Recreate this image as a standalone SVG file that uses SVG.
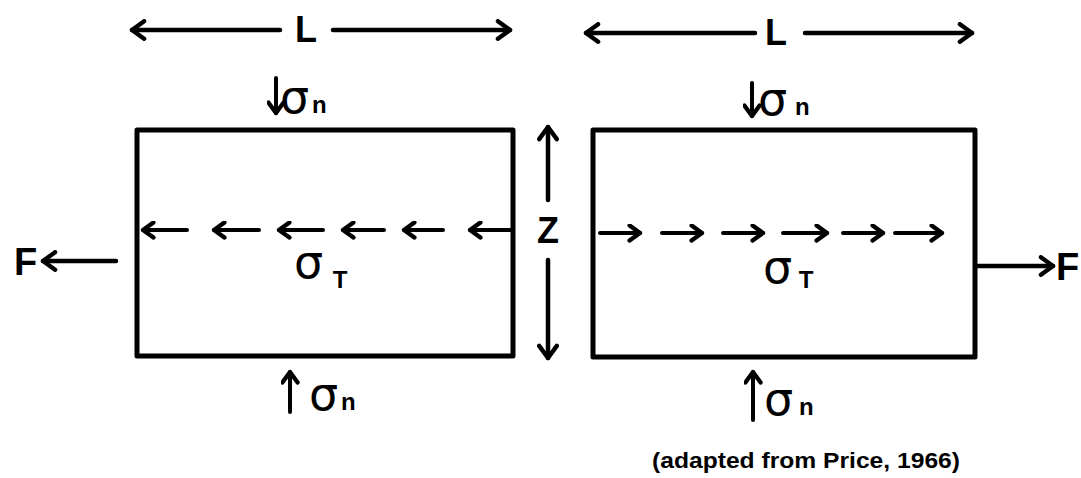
<svg xmlns="http://www.w3.org/2000/svg" width="1081" height="478" viewBox="0 0 1081 478">
<style>
.ln{stroke:#000;stroke-width:4;fill:none;stroke-linecap:round}
.big{stroke-width:4.5}
.box{stroke:#000;stroke-width:5;fill:none;stroke-linejoin:round}
.lt{font-family:"Liberation Sans",Arial,sans-serif;font-weight:bold;fill:#000}
.gk{font-family:"DejaVu Sans",sans-serif;fill:#000}
</style>
<defs>
<marker id="ah" viewBox="0 0 20 20" refX="17" refY="10" markerWidth="22" markerHeight="22" markerUnits="userSpaceOnUse" orient="auto-start-reverse">
<path d="M6,2 L17,10 L6,18" fill="none" stroke="#000" stroke-width="4" stroke-linecap="round" stroke-linejoin="round"/>
</marker>
<marker id="as" viewBox="0 0 20 20" refX="17" refY="10" markerWidth="19" markerHeight="19" markerUnits="userSpaceOnUse" orient="auto-start-reverse">
<path d="M6,2 L17,10 L6,18" fill="none" stroke="#000" stroke-width="4.5" stroke-linecap="round" stroke-linejoin="round"/>
</marker>
</defs>
<g id="block-left">
<rect class="box" x="137" y="130" width="376" height="226"/>
<text class="gk" x="294" y="278" font-size="46">σ</text>
<text class="lt" x="340" y="288" font-size="24" text-anchor="middle">T</text>
</g>
<g id="block-right">
<rect class="box" x="593" y="130" width="382" height="227"/>
<text class="gk" x="763" y="283" font-size="46">σ</text>
<text class="lt" x="806" y="288" font-size="24" text-anchor="middle">T</text>
</g>
<g id="labels">
<text class="lt" x="306" y="42" font-size="36" text-anchor="middle">L</text>
<text class="lt" x="776" y="45" font-size="36" text-anchor="middle">L</text>
<text class="lt" x="548" y="243" font-size="36" text-anchor="middle">Z</text>
<text class="lt" x="14" y="275" font-size="38">F</text>
<text class="lt" x="1056" y="280" font-size="38">F</text>
<text class="gk" x="280" y="113" font-size="46">σ</text>
<text class="lt" x="312" y="113" font-size="24">n</text>
<text class="gk" x="758" y="115" font-size="46">σ</text>
<text class="lt" x="795" y="115" font-size="24">n</text>
<text class="gk" x="309" y="410" font-size="46">σ</text>
<text class="lt" x="341" y="410" font-size="24">n</text>
<text class="gk" x="764" y="415" font-size="46">σ</text>
<text class="lt" x="799" y="415" font-size="24">n</text>
<text class="lt" x="652" y="468" font-size="22" textLength="308" lengthAdjust="spacingAndGlyphs">(adapted from Price, 1966)</text>
</g>
<g id="connectors">
<path class="ln big" d="M280,30 H132" marker-end="url(#ah)"/>
<path class="ln big" d="M333,30 H510" marker-end="url(#ah)"/>
<path class="ln big" d="M755,33 H586" marker-end="url(#ah)"/>
<path class="ln big" d="M805,33 H972" marker-end="url(#ah)"/>
<path class="ln" d="M276,78 V113" marker-end="url(#as)"/>
<path class="ln" d="M752,83 V116" marker-end="url(#as)"/>
<path class="ln" d="M290,412 V372" marker-end="url(#as)"/>
<path class="ln" d="M753,420 V372" marker-end="url(#as)"/>
<path class="ln big" d="M548,200 V127" marker-end="url(#ah)"/>
<path class="ln big" d="M548,260 V358" marker-end="url(#ah)"/>
<path class="ln big" d="M116,261 H43" marker-end="url(#ah)"/>
<path class="ln big" d="M977,266 H1053" marker-end="url(#ah)"/>
<path class="ln" d="M187,230 H143" marker-end="url(#as)"/>
<path class="ln" d="M259,230 H214" marker-end="url(#as)"/>
<path class="ln" d="M323,230 H279" marker-end="url(#as)"/>
<path class="ln" d="M384,230 H343" marker-end="url(#as)"/>
<path class="ln" d="M443,230 H404" marker-end="url(#as)"/>
<path class="ln" d="M511,230 H470" marker-end="url(#as)"/>
<path class="ln" d="M600,233 H640" marker-end="url(#as)"/>
<path class="ln" d="M662,233 H702" marker-end="url(#as)"/>
<path class="ln" d="M723,233 H763" marker-end="url(#as)"/>
<path class="ln" d="M783,233 H827" marker-end="url(#as)"/>
<path class="ln" d="M843,233 H883" marker-end="url(#as)"/>
<path class="ln" d="M895,233 H942" marker-end="url(#as)"/>
</g>
</svg>
